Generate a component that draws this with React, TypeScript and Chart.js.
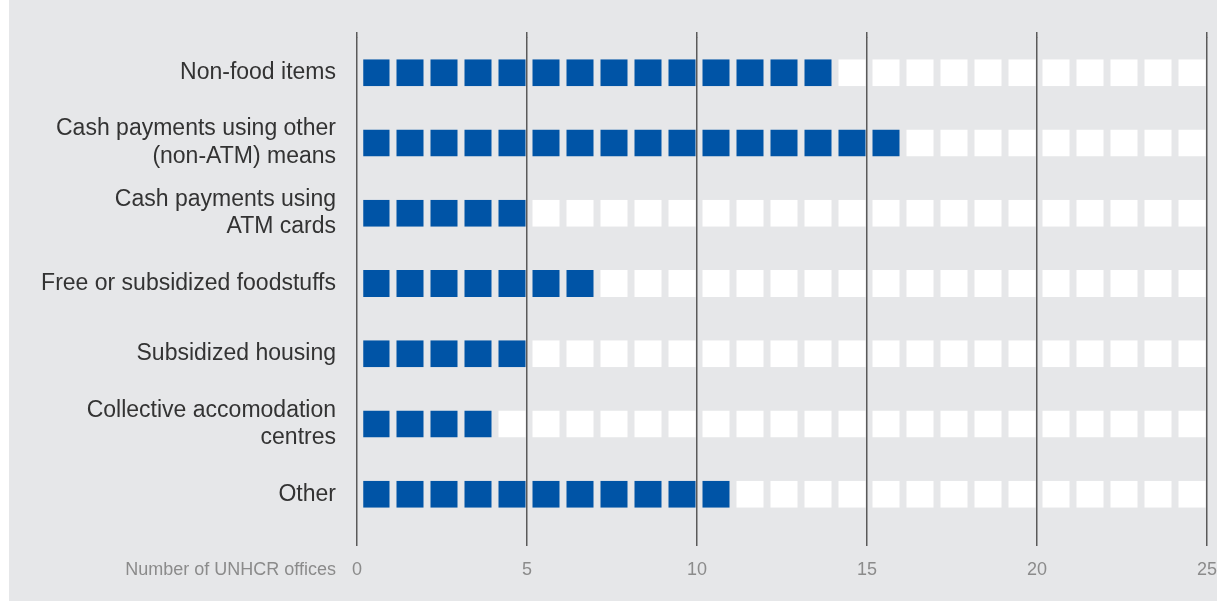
import React, { useEffect, useRef } from "react";
import { Chart, registerables } from "chart.js";

Chart.register(...registerables);

const categories: (string | string[])[] = [
  "Non-food items",
  ["Cash payments using other", "(non-ATM) means"],
  ["Cash payments using", "ATM cards"],
  "Free or subsidized foodstuffs",
  "Subsidized housing",
  ["Collective accomodation", "centres"],
  "Other",
];
const officeCounts: number[] = [14, 16, 5, 7, 5, 4, 11];
const totalUnits = 25;
const xTicks: number[] = [0, 5, 10, 15, 20, 25];
const axisTitle = "Number of UNHCR offices";

const BLUE = "#0054a6";
const EMPTY = "#ffffff";
const PANEL = "#e6e7e9";
const GRID = "#5a5a5a";
const TICK = "#8b8b8b";
const LABEL = "#333333";
const FONT = "'Liberation Sans', Arial, sans-serif";

export default function App() {
  const ref = useRef<HTMLCanvasElement | null>(null);

  useEffect(() => {
    const canvas = ref.current;
    if (!canvas) return;

    const units = Array.from({ length: totalUnits }, (_, i) => i);
    const datasets = units.map((i) => ({
      label: `unit ${i + 1}`,
      data: categories.map(() => [i, i + 1] as [number, number]),
      backgroundColor: officeCounts.map((v) => (i < v ? BLUE : EMPTY)),
      borderColor: "rgba(0,0,0,0)",
      borderWidth: { left: 5.5, right: 1.5, top: 0, bottom: 0 },
      borderSkipped: false as const,
      inflateAmount: 0,
      barThickness: 27,
      grouped: false,
    }));

    const titlePlugin = {
      id: "xTitle",
      afterDraw(chart: any) {
        const xs = chart.scales.x;
        const ctx = chart.ctx;
        ctx.save();
        ctx.font = `18px ${FONT}`;
        ctx.fillStyle = TICK;
        ctx.textAlign = "right";
        ctx.textBaseline = "middle";
        ctx.fillText(axisTitle, xs.getPixelForValue(0) - 21, xs.top + 16.5 + 13 + 10.8);
        ctx.restore();
      },
    };

    const chart = new Chart(canvas, {
      type: "bar",
      data: { labels: categories as any, datasets: datasets as any },
      plugins: [titlePlugin],
      options: {
        indexAxis: "y",
        responsive: false,
        animation: false,
        layout: { padding: { top: 32, bottom: 7.5, left: 0, right: 10 } },
        plugins: { legend: { display: false }, tooltip: { enabled: false } },
        scales: {
          x: {
            type: "linear",
            position: "bottom",
            min: 0,
            max: totalUnits,
            afterBuildTicks: (scale: any) => {
              scale.ticks = xTicks.map((v) => ({ value: v }));
            },
            afterFit: (scale: any) => {
              scale.paddingLeft = 0;
              scale.paddingRight = 0;
            },
            border: { display: false },
            grid: { color: GRID, lineWidth: 1.5, drawTicks: true, tickLength: 16.5 },
            ticks: { color: TICK, font: { family: FONT, size: 18 }, padding: 13, maxRotation: 0 },
          },
          x2: {
            type: "linear",
            position: "top",
            min: 0,
            max: totalUnits,
            afterBuildTicks: (scale: any) => {
              scale.ticks = xTicks.map((v) => ({ value: v }));
            },
            afterFit: (scale: any) => {
              scale.paddingLeft = 0;
              scale.paddingRight = 0;
            },
            border: { display: false },
            grid: { color: GRID, lineWidth: 1.5, drawOnChartArea: false, drawTicks: true, tickLength: 5.5 },
            ticks: { display: false },
          },
          y: {
            type: "category",
            position: "left",
            border: { display: false },
            grid: { display: false, drawTicks: false },
            afterFit: (scale: any) => {
              scale.width = 357;
            },
            ticks: {
              color: LABEL,
              padding: 21,
              font: { family: FONT, size: 23, lineHeight: 1.2 },
            },
          },
        },
      },
    });

    return () => chart.destroy();
  }, []);

  return (
    <div style={{ position: "fixed", left: 0, top: 0, width: 1217, height: 601, background: "#ffffff" }}>
      <div style={{ position: "absolute", left: 9, top: 0, right: 0, bottom: 0, background: PANEL }} />
      <canvas ref={ref} width={1217} height={601} style={{ position: "absolute", left: 0, top: 0 }} />
    </div>
  );
}
